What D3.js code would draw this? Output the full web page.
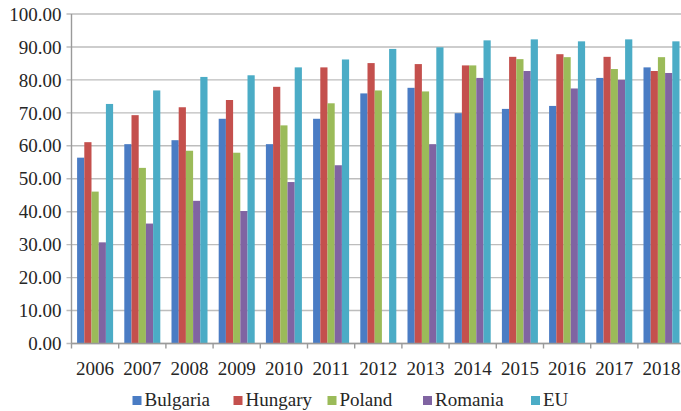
<!DOCTYPE html>
<html>
<head>
<meta charset="utf-8">
<script src="https://cdn.jsdelivr.net/npm/d3@7"></script>
<style>
  html, body { margin: 0; padding: 0; background: #fff; }
  svg { display: block; }
  text { font-family: "Liberation Serif", "Times New Roman", serif; fill: #262626; }
</style>
</head>
<body>
<svg id="chart" width="681" height="411"></svg>
<script>
// Years on the category axis
const years = ["2006","2007","2008","2009","2010","2011","2012","2013","2014","2015","2016","2017","2018"];

// Series values per year
const bulgaria = [56.4, 60.5, 61.7, 68.2, 60.5, 68.2, 75.9, 77.6, 69.9, 71.2, 72.1, 80.6, 83.8];
const hungary  = [61.1, 69.3, 71.7, 73.9, 77.9, 83.8, 85.1, 84.8, 84.4, 87.0, 87.8, 87.0, 82.7];
const poland   = [46.1, 53.3, 58.5, 57.9, 66.2, 72.9, 76.8, 76.5, 84.4, 86.3, 86.9, 83.3, 86.9];
const romania  = [30.7, 36.4, 43.3, 40.2, 49.0, 54.1, null, 60.5, 80.6, 82.7, 77.4, 80.0, 82.1];
const eu       = [72.7, 76.8, 80.9, 81.4, 83.8, 86.2, 89.4, 89.9, 92.0, 92.3, 91.7, 92.3, 91.7];

const seriesNames = ["Bulgaria", "Hungary", "Poland", "Romania", "EU"];
const seriesValues = [bulgaria, hungary, poland, romania, eu];
const seriesColors = ["#4a7cc4", "#c4504d", "#9bbb59", "#8064a2", "#4bacc6"];

// Y axis ticks
const yTicks = [0, 10, 20, 30, 40, 50, 60, 70, 80, 90, 100];

const svg = d3.select("#chart");

const plotLeft = 71.5, plotTop = 14, plotBottom = 343.5;
const step = 47.2;
const gap = 0.237;

const x = d3.scaleBand()
  .domain(years)
  .range([plotLeft, plotLeft + step * years.length])
  .paddingInner(gap)
  .paddingOuter(gap / 2);

const xs = d3.scaleBand()
  .domain(seriesNames)
  .range([0, x.bandwidth()]);

const y = d3.scaleLinear().domain([0, 100]).range([plotBottom, plotTop]);

// Horizontal gridlines with short outer ticks
svg.append("g").selectAll("line")
  .data(yTicks)
  .join("line")
  .attr("x1", plotLeft - 5)
  .attr("x2", x.range()[1])
  .attr("y1", d => y(d))
  .attr("y2", d => y(d))
  .attr("stroke", "#bdbdbd")
  .attr("stroke-width", 1.4);

// Y tick labels
svg.append("g").selectAll("text")
  .data(yTicks)
  .join("text")
  .attr("x", plotLeft - 10)
  .attr("y", d => y(d))
  .attr("dy", "0.35em")
  .attr("text-anchor", "end")
  .style("font-size", "19px")
  .text(d => d3.format(".2f")(d));

// Bars
const groups = svg.append("g").selectAll("g")
  .data(years)
  .join("g")
  .attr("transform", d => `translate(${x(d)},0)`);

groups.selectAll("rect")
  .data((yr, i) => seriesNames.map((s, k) => ({ s, v: seriesValues[k][i], c: seriesColors[k] }))
    .filter(d => d.v != null))
  .join("rect")
  .attr("x", d => xs(d.s))
  .attr("width", xs.bandwidth())
  .attr("y", d => y(d.v))
  .attr("height", d => y(0) - y(d.v))
  .attr("fill", d => d.c);

// Left axis line
svg.append("line")
  .attr("x1", plotLeft).attr("x2", plotLeft)
  .attr("y1", y(100)).attr("y2", y(0))
  .attr("stroke", "#9a9a9a").attr("stroke-width", 1.4);

// Bottom axis line
svg.append("line")
  .attr("x1", plotLeft).attr("x2", x.range()[1])
  .attr("y1", y(0)).attr("y2", y(0))
  .attr("stroke", "#9a9a9a").attr("stroke-width", 1.4);

// Category boundary ticks
svg.append("g").selectAll("line")
  .data(years)
  .join("line")
  .attr("x1", d => x(d) + x.bandwidth() / 2 - x.step() / 2)
  .attr("x2", d => x(d) + x.bandwidth() / 2 - x.step() / 2)
  .attr("y1", y(0))
  .attr("y2", y(0) + 5)
  .attr("stroke", "#9a9a9a").attr("stroke-width", 1.4);

// Year labels
svg.append("g").selectAll("text")
  .data(years)
  .join("text")
  .attr("x", d => x(d) + x.bandwidth() / 2)
  .attr("y", 375)
  .attr("text-anchor", "middle")
  .style("font-size", "19px")
  .text(d => d);

// Legend
const legendX = [132.5, 233.5, 327.5, 423, 531];
const legend = svg.append("g").selectAll("g")
  .data(seriesNames)
  .join("g")
  .attr("transform", (d, i) => `translate(${legendX[i]},396)`);
legend.append("rect")
  .attr("width", 9).attr("height", 9)
  .attr("fill", (d, i) => seriesColors[i]);
legend.append("text")
  .attr("x", 12)
  .attr("y", 9.5)
  .style("font-size", "19px")
  .text(d => d);
</script>
</body>
</html>
